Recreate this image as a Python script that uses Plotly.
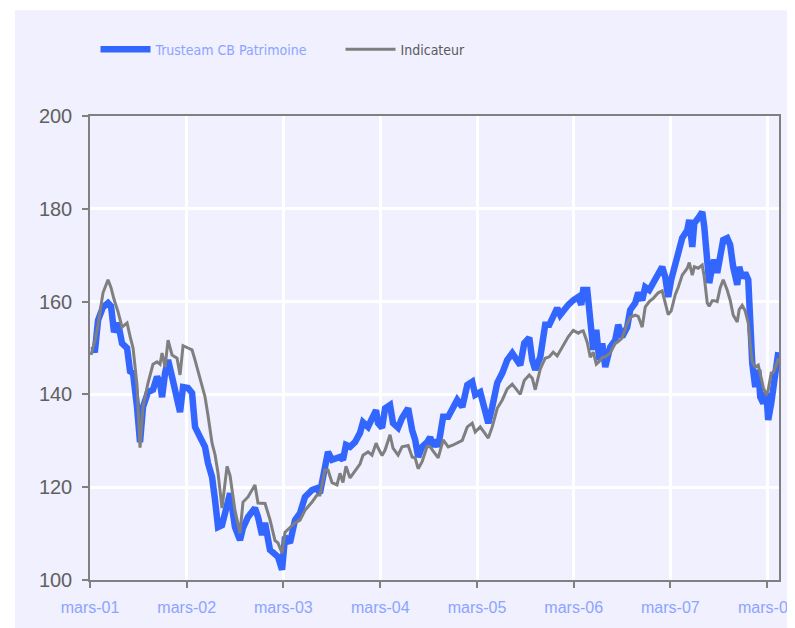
import pandas as pd
import plotly.graph_objects as go

# Decimal years of each reading (mars-01 = 2001.162)
annees = [
    2001.172, 2001.214, 2001.245, 2001.296, 2001.348, 2001.379, 2001.410, 2001.452, 2001.493, 2001.545,
    2001.576, 2001.607, 2001.648, 2001.679, 2001.710, 2001.762, 2001.813, 2001.855, 2001.886, 2001.907,
    2001.938, 2001.969, 2002.010, 2002.062, 2002.093, 2002.124, 2002.175, 2002.217, 2002.248, 2002.300,
    2002.351, 2002.382, 2002.424, 2002.455, 2002.486, 2002.527, 2002.579, 2002.610, 2002.661, 2002.713,
    2002.744, 2002.796, 2002.868, 2002.899, 2002.941, 2002.972, 2003.023, 2003.075, 2003.106, 2003.148,
    2003.179, 2003.230, 2003.282, 2003.334, 2003.385, 2003.458, 2003.509, 2003.540, 2003.592, 2003.623,
    2003.665, 2003.716, 2003.747, 2003.778, 2003.809, 2003.851, 2003.902, 2003.954, 2003.985, 2004.037,
    2004.078, 2004.120, 2004.140, 2004.182, 2004.213, 2004.264, 2004.295, 2004.347, 2004.388, 2004.451,
    2004.492, 2004.523, 2004.554, 2004.595, 2004.647, 2004.678, 2004.709, 2004.730, 2004.761, 2004.812,
    2004.864, 2004.916, 2004.957, 2005.009, 2005.061, 2005.112, 2005.143, 2005.195, 2005.247, 2005.278,
    2005.319, 2005.371, 2005.423, 2005.474, 2005.526, 2005.578, 2005.609, 2005.650, 2005.702, 2005.733,
    2005.764, 2005.816, 2005.867, 2005.909, 2005.950, 2005.991, 2006.022, 2006.074, 2006.105, 2006.157,
    2006.209, 2006.240, 2006.260, 2006.302, 2006.333, 2006.364, 2006.395, 2006.426, 2006.457, 2006.488,
    2006.539, 2006.591, 2006.622, 2006.663, 2006.715, 2006.746, 2006.798, 2006.829, 2006.870, 2006.901,
    2006.943, 2006.984, 2007.036, 2007.077, 2007.108, 2007.139, 2007.170, 2007.212, 2007.243, 2007.284,
    2007.336, 2007.357, 2007.388, 2007.409, 2007.450, 2007.491, 2007.512, 2007.543, 2007.563, 2007.594,
    2007.615, 2007.646, 2007.677, 2007.708, 2007.749, 2007.780, 2007.811, 2007.853, 2007.873, 2007.904,
    2007.935, 2007.967, 2007.987, 2008.008, 2008.039, 2008.070, 2008.091, 2008.122, 2008.153, 2008.173,
    2008.204, 2008.225, 2008.256, 2008.277,
]

trusteam = [
    149.5, 149.6, 156.0, 158.8, 159.7, 159.0, 153.4, 155.4, 151.0, 150.0,
    145.0, 144.6, 137.3, 129.7, 137.3, 140.5, 141.0, 143.8, 142.5, 139.4,
    144.6, 147.4, 143.8, 138.1, 136.2, 141.6, 141.4, 140.3, 133.0, 130.8,
    128.7, 125.2, 122.2, 117.2, 111.4, 111.8, 117.2, 118.7, 111.4, 108.6,
    111.2, 113.6, 115.5, 113.6, 109.7, 112.3, 106.5, 105.8, 105.0, 102.2,
    109.3, 108.0, 112.9, 114.4, 117.9, 119.4, 119.8, 118.7, 123.7, 127.6,
    125.9, 126.3, 126.5, 125.9, 129.1, 128.7, 129.7, 131.7, 134.0, 133.0,
    135.2, 136.6, 133.8, 132.8, 137.0, 137.7, 133.8, 132.8, 134.9, 137.0,
    132.3, 130.2, 126.5, 128.7, 129.7, 130.8, 128.7, 130.2, 128.7, 135.2,
    135.2, 137.0, 138.8, 137.3, 142.0, 142.7, 139.9, 140.5, 136.6, 133.8,
    137.3, 142.5, 144.6, 147.4, 148.9, 146.8, 146.3, 151.0, 152.2, 147.4,
    145.3, 148.1, 155.0, 155.0, 157.1, 158.6, 157.1, 158.8, 159.3, 160.3,
    161.0, 159.3, 162.5, 162.5, 155.4, 149.6, 153.9, 147.4, 151.0, 145.9,
    150.2, 151.7, 155.0, 152.4, 154.5, 158.2, 159.7, 161.9, 160.3, 163.1,
    162.5, 164.2, 166.4, 167.5, 165.3, 161.0, 164.7, 168.3, 170.5, 173.7,
    175.4, 177.6, 171.8, 176.9, 178.0, 179.3, 176.1, 169.6, 164.0, 167.5,
    169.0, 166.2, 169.6, 173.3, 173.7, 172.2, 167.5, 163.6, 167.5, 165.1,
    166.2, 164.7, 156.0, 146.8, 141.6, 145.3, 139.4, 138.1, 140.3, 134.5,
    138.1, 141.6, 145.9, 149.1,
]

indicateur = [
    148.5, 151.7, 155.0, 161.9, 164.7, 163.0, 160.5, 157.8, 154.5, 155.4,
    152.5, 150.0, 142.0, 128.5, 137.3, 142.5, 146.5, 147.0, 146.5, 148.9,
    145.9, 151.7, 148.5, 147.8, 144.2, 150.5, 150.0, 149.6, 147.4, 143.1,
    139.5, 135.5, 129.5, 127.0, 123.0, 115.5, 124.5, 122.5, 115.0, 110.1,
    116.8, 117.9, 120.5, 116.6, 116.5, 116.5, 113.0, 108.5, 108.0, 105.8,
    110.3, 111.2, 112.3, 112.9, 115.0, 116.8, 118.3, 118.3, 123.7, 123.7,
    121.0, 120.5, 123.0, 121.0, 124.5, 122.0, 123.5, 125.0, 126.9, 127.6,
    126.9, 129.5, 128.5, 126.8, 128.0, 131.3, 128.4, 126.9, 128.7, 129.0,
    126.5, 126.3, 124.0, 125.5, 128.8, 128.7, 127.8, 127.2, 126.3, 130.2,
    128.7, 129.1, 129.6, 130.1, 133.0, 133.8, 131.9, 133.0, 131.5, 130.6,
    133.0, 137.0, 138.8, 141.2, 142.2, 140.8, 140.0, 143.0, 144.2, 143.5,
    141.0, 145.5, 147.8, 148.1, 149.1, 148.3, 149.4, 151.5, 152.4, 153.8,
    153.2, 153.6, 153.7, 151.2, 148.0, 149.1, 146.5, 147.1, 148.0, 148.1,
    148.9, 151.0, 151.4, 152.2, 155.3, 156.6, 157.1, 156.8, 154.5, 158.8,
    160.0, 160.7, 161.9, 162.3, 159.8, 157.2, 158.0, 161.5, 163.1, 165.7,
    167.2, 168.4, 165.7, 167.5, 167.2, 167.9, 165.3, 159.7, 159.0, 160.2,
    160.2, 160.0, 163.0, 164.7, 162.5, 160.3, 157.1, 155.6, 158.3, 159.2,
    158.0, 155.4, 151.0, 147.0, 145.9, 146.3, 144.4, 141.5, 139.8, 141.0,
    144.6, 144.7, 146.3, 147.8,
]

tick_dates = ["2001-03-01", "2002-03-01", "2003-03-01", "2004-03-01",
              "2005-03-01", "2006-03-01", "2007-03-01", "2008-03-01"]
tick_labels = ["mars-01", "mars-02", "mars-03", "mars-04",
               "mars-05", "mars-06", "mars-07", "mars-08"]
y_ticks = [100, 120, 140, 160, 180, 200]


def to_date(t):
    y = int(t)
    start = pd.Timestamp(year=y, month=1, day=1)
    end = pd.Timestamp(year=y + 1, month=1, day=1)
    return start + (end - start) * (t - y)


dates = [to_date(t) for t in annees]

BG = "#f0f0fe"
LEGEND_FONT = "DejaVu Sans Condensed, Liberation Sans Narrow, Liberation Sans, sans-serif"

fig = go.Figure()
fig.add_trace(go.Scatter(
    x=dates, y=trusteam, mode="lines",
    name='<span style="color:#8ca4ff">Trusteam CB Patrimoine</span>',
    line=dict(color="#3366ff", width=6.5),
))
fig.add_trace(go.Scatter(
    x=dates, y=indicateur, mode="lines",
    name='<span style="color:#5a5a5a">Indicateur</span>',
    line=dict(color="#7f7f7f", width=3),
))

fig.add_shape(type="rect", xref="paper", yref="paper", layer="below",
              x0=-0.109, x1=1.1, y0=-0.2, y1=1.228,
              fillcolor=BG, line=dict(width=0))

fig.update_layout(
    width=787, height=620,
    margin=dict(l=82, r=16, t=108, b=48, autoexpand=False),
    paper_bgcolor="white", plot_bgcolor=BG,
    showlegend=True,
    legend=dict(orientation="h", x=0.008, xanchor="left", y=1.143, yanchor="middle",
                bgcolor="rgba(0,0,0,0)",
                font=dict(family=LEGEND_FONT, size=14, color="#5a5a5a"),
                itemwidth=50, entrywidth=180, traceorder="normal"),
    xaxis=dict(
        type="date", range=["2001-03-01", "2008-04-14"],
        tickvals=tick_dates, ticktext=tick_labels,
        showgrid=True, gridcolor="white", gridwidth=2.5,
        showline=True, linecolor="#808080", linewidth=1.5, mirror=True,
        ticks="outside", ticklen=6, tickcolor="#808080", tickwidth=1.5,
        tickfont=dict(family="Liberation Sans, Arial, sans-serif", size=16, color="#8ca4ff"),
        ticklabelstandoff=6, ticklabeloverflow="allow", zeroline=False,
        automargin=False,
    ),
    yaxis=dict(
        range=[100, 200], tickvals=y_ticks,
        showgrid=True, gridcolor="white", gridwidth=2.5,
        showline=True, linecolor="#808080", linewidth=1.5, mirror=True,
        ticks="outside", ticklen=6, tickcolor="#808080", tickwidth=1.5,
        tickfont=dict(family="Liberation Sans, Arial, sans-serif", size=20, color="#606060"),
        ticklabelstandoff=6, zeroline=False, automargin=False,
    ),
)

fig.write_html("out.html")
